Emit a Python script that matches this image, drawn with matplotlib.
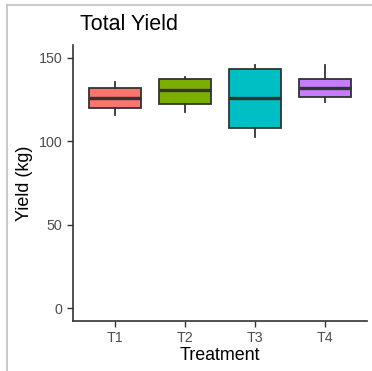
import matplotlib
matplotlib.use("Agg")
import matplotlib.pyplot as plt
from matplotlib.lines import Line2D

categories = ["T1", "T2", "T3", "T4"]
q1 = [119.5, 122.0, 107.7, 126.4]
med = [126.0, 130.5, 126.0, 131.5]
q3 = [131.7, 137.0, 142.9, 137.0]
wlo = [115.9, 117.5, 102.6, 123.6]
whi = [135.6, 138.6, 145.3, 145.3]
colors = ["#F8766D", "#7CAE00", "#00BFC4", "#C77CFF"]
yticks = [0, 50, 100, 150]

plt.rcParams['font.family'] = ['Liberation Sans', 'DejaVu Sans']
W, H = 372, 371
fig = plt.figure(figsize=(W/100, H/100), dpi=100)
ax = fig.add_axes([73/W, (H-320.7)/H, (367-73)/W, (320.7-45)/H])

stats = []
for i, c in enumerate(categories):
    stats.append(dict(label=c, q1=q1[i], med=med[i], q3=q3[i],
                      whislo=wlo[i], whishi=whi[i], fliers=[]))
pos = list(range(1, len(categories)+1))
bp = ax.bxp(stats, positions=pos, widths=0.75, patch_artist=True,
            showcaps=False,
            boxprops=dict(edgecolor="#333333", linewidth=1.3),
            whiskerprops=dict(color="#333333", linewidth=1.3),
            medianprops=dict(color="#333333", linewidth=2.4, solid_capstyle="butt"))
for p, col in zip(bp['boxes'], colors):
    p.set_facecolor(col)

ax.set_xlim(0.4, 4.6)
ax.set_ylim(-7.5, 157.5)
ax.set_yticks(yticks)
ax.set_xticks(pos)
ax.set_xticklabels(categories)
for s in ['top', 'right']:
    ax.spines[s].set_visible(False)
for s in ['left', 'bottom']:
    ax.spines[s].set_color("#333333")
    ax.spines[s].set_linewidth(1.2)
ax.tick_params(axis='both', colors="#333333", labelcolor="#4D4D4D",
               labelsize=10.3, length=4.5, width=1.0, pad=3)
ax.set_xlabel("Treatment", fontsize=12.9, color="black", labelpad=1)
ax.set_ylabel("Yield (kg)", fontsize=12.9, color="black", labelpad=4)
fig.text(80/W, 1-25/H, "Total Yield", fontsize=15.5, color="black",
         ha="left", va="center")

# screenshot border
fig.add_artist(Line2D([7/W, 1], [1-5/H, 1-5/H], color="#C0C0C0", linewidth=1.2,
                      transform=fig.transFigure))
fig.add_artist(Line2D([7/W, 7/W], [0, 1-5/H], color="#C0C0C0", linewidth=1.2,
                      transform=fig.transFigure))

fig.savefig("out.png", dpi=100)
